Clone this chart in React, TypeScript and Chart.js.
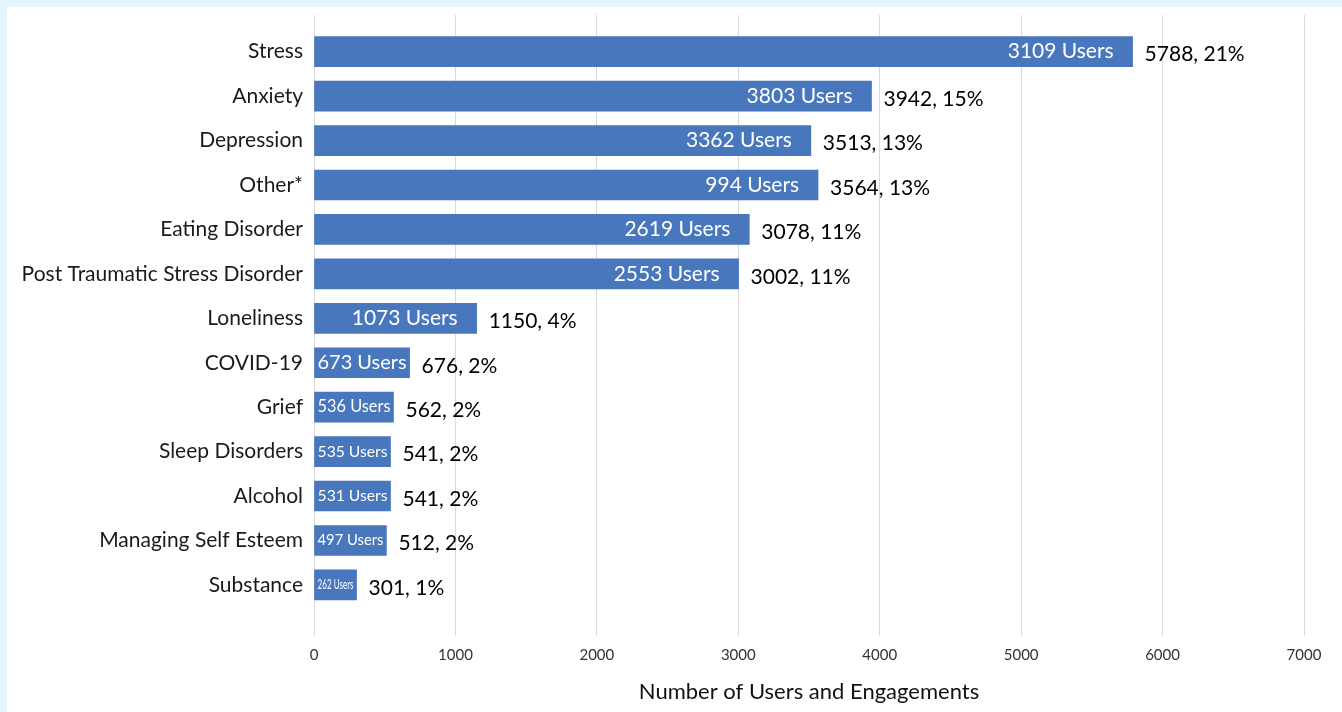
import React, { useEffect, useRef } from "react";
import { Chart, registerables } from "chart.js";

Chart.register(...registerables);

const categories = [
  "Stress",
  "Anxiety",
  "Depression",
  "Other*",
  "Eating Disorder",
  "Post Traumatic Stress Disorder",
  "Loneliness",
  "COVID-19",
  "Grief",
  "Sleep Disorders",
  "Alcohol",
  "Managing Self Esteem",
  "Substance",
];
const engagements = [5788, 3942, 3513, 3564, 3078, 3002, 1150, 676, 562, 541, 541, 512, 301];
const users = [3109, 3803, 3362, 994, 2619, 2553, 1073, 673, 536, 535, 531, 497, 262];
const percents = [21, 15, 13, 13, 11, 11, 4, 2, 2, 2, 2, 2, 1];
const xTicks = [0, 1000, 2000, 3000, 4000, 5000, 6000, 7000];

const FONT = "Lato, 'Noto Sans', sans-serif";

const labelPlugin = {
  id: "barLabels",
  afterDatasetsDraw(chart: any) {
    const ctx = chart.ctx;
    const meta = chart.getDatasetMeta(0);
    ctx.save();
    meta.data.forEach((bar: any, i: number) => {
      const x0 = bar.base;
      const x1 = bar.x;
      const y = bar.y;
      const barW = x1 - x0;
      const txt = `${users[i]} Users`;
      ctx.font = `21px ${FONT}`;
      const wFull = ctx.measureText(txt).width;
      ctx.fillStyle = "#ffffff";
      ctx.textBaseline = "middle";
      if (wFull + 36 <= barW) {
        ctx.textAlign = "right";
        ctx.fillText(txt, x1 - 19, y);
      } else {
        const target = barW - 6;
        let fs = Math.min(21, (21 * target) / wFull);
        fs = Math.max(14, fs);
        ctx.font = `${fs}px ${FONT}`;
        const w = ctx.measureText(txt).width;
        const sx = Math.min(1, target / w);
        ctx.textAlign = "center";
        ctx.save();
        ctx.translate((x0 + x1) / 2, y);
        ctx.scale(sx, 1);
        ctx.fillText(txt, 0, 0);
        ctx.restore();
      }
      ctx.font = `21px ${FONT}`;
      ctx.fillStyle = "#000000";
      ctx.textAlign = "left";
      ctx.fillText(`${engagements[i]}, ${percents[i]}%`, x1 + 12, y + 3);
    });
    ctx.restore();
  },
};

export default function App() {
  const ref = useRef<HTMLCanvasElement | null>(null);
  useEffect(() => {
    document.body.style.margin = "0";
    const chart = new Chart(ref.current!, {
      type: "bar",
      data: {
        labels: categories,
        datasets: [
          {
            data: engagements.map((v, i) => ({ x: v, y: i })),
            backgroundColor: "#4877bd",
            barThickness: 30,
          },
        ],
      },
      options: {
        indexAxis: "y",
        animation: false,
        responsive: false,
        maintainAspectRatio: false,
        layout: { padding: { top: 8, right: 38, left: 0, bottom: 0 } },
        plugins: { legend: { display: false }, tooltip: { enabled: false } },
        scales: {
          x: {
            type: "linear",
            min: 0,
            max: 7000,
            afterBuildTicks: (s: any) => {
              s.ticks = xTicks.map((v) => ({ value: v }));
            },
            afterFit: (s: any) => {
              s.height = 76;
              s.paddingLeft = 0;
              s.paddingRight = 0;
            },
            grid: { color: "#d9d9d9", lineWidth: 1, drawTicks: false },
            border: { display: false },
            ticks: {
              padding: 10,
              color: "#333333",
              font: { family: FONT, size: 15 },
              callback: (v: any) => String(v),
            },
            title: {
              display: true,
              text: "Number of Users and Engagements",
              color: "#111111",
              font: { family: FONT, size: 22 },
              padding: { top: 0, bottom: 7 },
            },
          },
          y: {
            type: "linear",
            reverse: true,
            offset: false,
            min: -0.826,
            max: 13.15,
            afterBuildTicks: (s: any) => {
              s.ticks = categories.map((_, i) => ({ value: i }));
            },
            afterFit: (s: any) => {
              s.width = 307;
              s.paddingTop = 0;
              s.paddingBottom = 0;
            },
            grid: { display: false, drawTicks: false, offset: false },
            border: { display: false },
            ticks: {
              padding: 11,
              color: "#1a1a1a",
              font: { family: FONT, size: 21 },
              callback: (v: any) => categories[v] ?? "",
            },
          },
        },
      },
      plugins: [labelPlugin],
    });
    return () => chart.destroy();
  }, []);
  return (
    <div style={{ width: 1342, height: 712, background: "#e4f4fc", paddingLeft: 7, paddingTop: 7, boxSizing: "border-box" }}>
      <div style={{ width: 1335, height: 705, background: "#ffffff" }}>
        <canvas ref={ref} width={1335} height={705} style={{ display: "block" }} />
      </div>
    </div>
  );
}
